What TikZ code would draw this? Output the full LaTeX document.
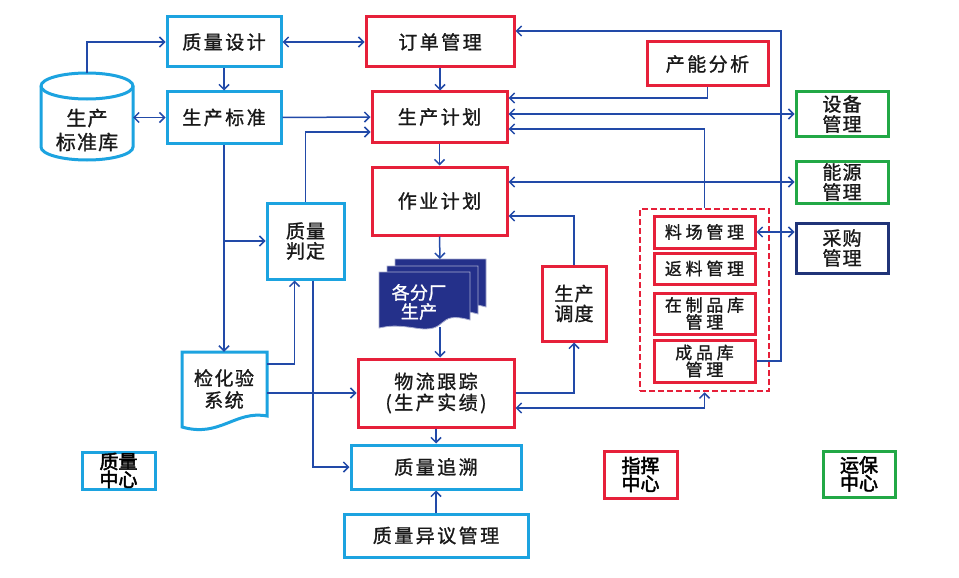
\documentclass[tikz,border=0pt]{standalone}
\usepackage{fontspec}
\setmainfont{Noto Sans CJK SC}
\newfontfamily\cjk{Noto Sans CJK SC}[FakeBold=1.2]
\newfontfamily\cjkbold{Noto Sans CJK SC}[FakeBold=2.5]
\usetikzlibrary{arrows.meta,calc}
\definecolor{cyanc}{RGB}{28,163,224}
\definecolor{redc}{RGB}{230,32,58}
\definecolor{greenc}{RGB}{34,168,70}
\definecolor{navyb}{RGB}{32,52,120}
\definecolor{docfill}{RGB}{36,48,138}
\definecolor{linec}{RGB}{34,74,168}
\definecolor{textc}{RGB}{25,25,25}
\tikzset{
  tx/.style={text=textc, font=\cjk\fontsize{19pt}{21pt}\selectfont\addfontfeature{LetterSpace=13}},
  tx2/.style={text=textc, font=\cjk\fontsize{19pt}{20pt}\selectfont\addfontfeature{LetterSpace=6}},
  txs/.style={text=textc, font=\cjk\fontsize{17pt}{17pt}\selectfont\addfontfeature{LetterSpace=22}},
  txc/.style={text=black, font=\cjkbold\fontsize{19pt}{18pt}\selectfont},
  box/.style={draw, line width=3pt, fill=white, inner sep=0pt, align=center},
  cb/.style={box, draw=cyanc},
  rb/.style={box, draw=redc},
  gb/.style={box, draw=greenc},
  nb/.style={box, draw=navyb},
  sz/.style 2 args={minimum width=#1pt, minimum height=#2pt},
  arr/.style={draw=linec, line width=1.5pt, -{Straight Barb[length=5pt,width=10pt]}},
  arrb/.style={draw=linec, line width=1.5pt, {Straight Barb[length=5pt,width=10pt]}-{Straight Barb[length=5pt,width=10pt]}},
  page/.style={fill=docfill, draw=white!60!docfill, line width=0.8pt}
}
\begin{document}
\begin{tikzpicture}[x=1pt,y=-1pt]
\useasboundingbox (0,0) rectangle (959,578);

% cylinder
\filldraw[draw=cyanc, fill=white, line width=3pt] (41,86) -- (41,147)
  arc[start angle=180, end angle=360, x radius=46pt, y radius=13pt] -- (133,86)
  arc[start angle=0, end angle=180, x radius=46pt, y radius=13pt] -- cycle;
\draw[cyanc, line width=3pt] (41,86) arc[start angle=180, end angle=360, x radius=46pt, y radius=13pt];
\node[align=center, text=textc, font=\cjk\fontsize{20pt}{24pt}\selectfont\addfontfeature{LetterSpace=6}] (db) at (87,130) {生产\\标准库};
\coordinate (dbtop) at (87,73);
\coordinate (dbright) at (133,117.5);

% left column
\node[cb, tx, sz={114}{50}] (zlsj) at (224,42) {质量设计};
\node[cb, tx, sz={114}{51}] (sczb) at (224,117.5) {生产标准};
\node[cb, tx2, sz={77}{76}] (zlpd) at (305.5,241) {质量\\判定};

% document shape 检化验系统
\node[inner sep=0pt, sz={85}{65}] (jhy) at (224.5,384.5) {};
\filldraw[draw=cyanc, fill=white, line width=3pt] (182,352) -- (267,352) -- (267,416)
  .. controls (235,410) and (220,438) .. (182,427) -- cycle;
\node[align=center, text=textc, font=\cjk\fontsize{19pt}{22pt}\selectfont\addfontfeature{LetterSpace=8}] at (224,389) {检化验\\系统};

% center column
\node[rb, tx, sz={148}{50}] (ddgl) at (440,42) {订单管理};
\node[rb, tx, sz={135}{50}] (scjh) at (439.5,117) {生产计划};
\node[rb, tx, sz={135}{68}] (zyjh) at (439.5,201) {作业计划};
\node[rb, tx, sz={156}{68}] (wlgz) at (436,393) {物流跟踪\\(生产实绩)};
\node[rb, tx2, sz={64}{75}] (scdd) at (574,303.5) {生产\\调度};
\node[cb, tx, sz={170}{44}] (zlzs) at (436,467) {质量追溯};
\node[cb, tx, sz={184}{43}] (zlyy) at (436,535.5) {质量异议管理};

% multi-document 各分厂生产
\foreach \px/\py in {395/259, 387/266, 379/272}{
  \filldraw[page] (\px,\py) -- ++(91,0) -- ++(0,48)
    .. controls ++(-36,-10) and ++(36,6) .. ++(-55,8)
    .. controls ++(-20,-3) and ++(10,-2) .. ++(-36,0) -- cycle;
}
\node[align=center, text=white, font=\cjk\fontsize{18pt}{19pt}\selectfont\addfontfeature{LetterSpace=2}] (fc) at (419,302) {各分厂\\生产};
\coordinate (fctop) at (440,259);
\coordinate (fcbot) at (440,327);

% right part
\node[rb, tx, sz={121}{44}] (cnfx) at (707.5,64) {产能分析};
\node[gb, tx2, sz={92}{44}] (sbgl) at (842,114) {设备\\管理};
\node[gb, tx2, sz={92}{42}] (nygl) at (842,182) {能源\\管理};
\node[nb, tx2, sz={92}{50}] (cggl) at (842,248) {采购\\管理};

\node[draw=redc, line width=2.5pt, dash pattern=on 6pt off 3pt, sz={129}{182}] (cont) at (704.5,300) {};
\node[rb, txs, sz={101}{32}] (lcgl) at (704.5,232) {料场管理};
\node[rb, txs, sz={101}{31}] (flgl) at (704.5,268.5) {返料管理};
\node[rb, txs, sz={101}{41}] (zzp) at (704.5,313.5) {在制品库\\管理};
\node[rb, txs, sz={101}{42}] (cpk) at (704.5,361) {成品库\\管理};

% centers
\node[cb, txc, sz={73}{37}] (zlzx) at (118.5,470.5) {质量\\中心};
\node[rb, txc, sz={73}{47}] (zhzx) at (640.5,474.5) {指挥\\中心};
\node[gb, txc, sz={72}{46}] (ybzx) at (859,474) {运保\\中心};

% connectors - left
\draw[arr] (dbtop) |- (zlsj.west);
\draw[arrb] (dbright) -- (sczb.west);
\draw[arr] (zlsj.south) -- (sczb.north);
\draw[arrb] (zlsj.east) -- (ddgl.west);
\draw[arr] (ddgl.south) -- (ddgl.south |- scjh.north);
\draw[arr] (sczb.east) -- (scjh.west);
\draw[arr] (zlpd.north) |- ([yshift=-15pt]scjh.west);
\draw[arr] (scjh.south) -- (zyjh.north);
\draw[arr] (zyjh.south) -- (fctop);
\draw[arr] (fcbot) -- (fcbot |- wlgz.north);
\draw[arr] (wlgz.east) -| (scdd.south);
\draw[arr] (scdd.north) |- ([yshift=-15pt]zyjh.east);
\draw[arr] (sczb.south) -- (sczb.south |- jhy.north);
\coordinate (br) at (224,241);
\draw[arr] (br) -- (zlpd.west);
\draw[arr] ([yshift=20.5pt]jhy.east) -| ([xshift=-11pt]zlpd.south);
\draw[arr] (jhy.east |- wlgz.west) -- (wlgz.west);
\draw[arr] ([xshift=7.5pt]zlpd.south) |- (zlzs.west);
\draw[arr] (wlgz.south) -- (zlzs.north);
\draw[arr] (zlyy.north) -- (zlzs.south);

% connectors - right
\draw[arr] (cnfx.south) |- ([yshift=19pt]scjh.east);
\draw[arrb] (scjh.east |- sbgl.west) -- (sbgl.west);
\draw[arr] (cont.north) |- ([yshift=-12pt]scjh.east);
\draw[arrb] (zyjh.east |- nygl.west) -- (nygl.west);
\draw[arrb] (lcgl.east) -- (lcgl.east -| cggl.west);
\coordinate (rr) at (781,361);
\draw[arr] (cpk.east) -- (rr) |- ([yshift=11pt]ddgl.east);
\draw[arrb] ([yshift=-15pt]wlgz.east) -| (cont.south);
\end{tikzpicture}
\end{document}
